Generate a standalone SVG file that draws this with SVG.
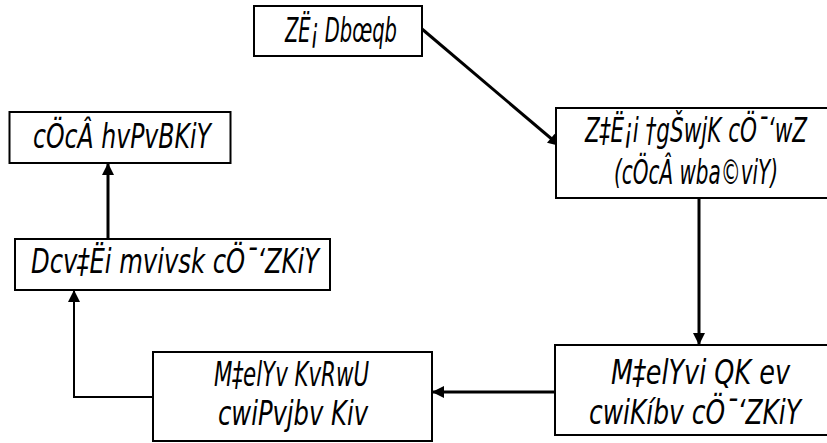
<svg xmlns="http://www.w3.org/2000/svg" width="827" height="443" viewBox="0 0 827 443">
<defs>
<marker id="ah" viewBox="0 0 10 10" refX="10" refY="5" markerWidth="4.3" markerHeight="4" markerUnits="strokeWidth" orient="auto">
<path d="M0,0 L10,5 L0,10 z" fill="#000"/>
</marker>
<marker id="ahs" viewBox="0 0 10 10" refX="10" refY="5" markerWidth="6" markerHeight="6" markerUnits="strokeWidth" orient="auto">
<path d="M0,0 L10,5 L0,10 z" fill="#000"/>
</marker>
</defs>
<style>
.box{fill:#fff;stroke:#000;stroke-width:2}
.t{font-family:"Liberation Sans Narrow","DejaVu Sans Condensed","Liberation Sans",sans-serif;font-style:italic;font-size:33px;fill:#000}
.c{fill:none;stroke:#000;stroke-width:3}
.c2{fill:none;stroke:#000;stroke-width:2}
</style>
<rect width="827" height="443" fill="#fff"/>
<g id="connectors">
<path class="c" d="M422,29 L560,146" marker-end="url(#ah)"/>
<path class="c" d="M699,198 L699,345" marker-end="url(#ah)"/>
<path class="c" d="M555,392 L432,392" marker-end="url(#ah)"/>
<path class="c2" d="M153,397 L74,397 L74,290" marker-end="url(#ahs)"/>
<path class="c" d="M108,239 L108,163" marker-end="url(#ah)"/>
</g>
<g id="n1">
<rect class="box" x="254" y="6" width="168" height="50"/>
<text class="t" x="285" y="42" textLength="112" lengthAdjust="spacingAndGlyphs">ZË¡ Dbœqb</text>
</g>
<g id="n2">
<rect class="box" x="556" y="108" width="280" height="90"/>
<text class="t" x="585" y="142" textLength="222" lengthAdjust="spacingAndGlyphs">Z‡Ë¡i †gŠwjK cÖ¯‘wZ</text>
<text class="t" x="614" y="184" textLength="164" lengthAdjust="spacingAndGlyphs">(cÖcÂ wba©viY)</text>
</g>
<g id="n3">
<rect class="box" x="9.5" y="112" width="221" height="51"/>
<text class="t" x="33" y="148" textLength="178" lengthAdjust="spacingAndGlyphs">cÖcÂ hvPvBKiY</text>
</g>
<g id="n4">
<rect class="box" x="15" y="239" width="315" height="51"/>
<text class="t" x="31" y="273" textLength="288" lengthAdjust="spacingAndGlyphs">Dcv‡Ëi mvivsk cÖ¯‘ZKiY</text>
</g>
<g id="n5">
<rect class="box" x="153" y="352" width="279" height="89"/>
<text class="t" x="214" y="386" textLength="155" lengthAdjust="spacingAndGlyphs">M‡elYv KvRwU</text>
<text class="t" x="218" y="425" textLength="150" lengthAdjust="spacingAndGlyphs">cwiPvjbv Kiv</text>
</g>
<g id="n6">
<rect class="box" x="555" y="345" width="280" height="90"/>
<text class="t" x="611" y="384" textLength="179" lengthAdjust="spacingAndGlyphs">M‡elYvi QK ev</text>
<text class="t" x="589" y="424" textLength="212" lengthAdjust="spacingAndGlyphs">cwiKíbv cÖ¯‘ZKiY</text>
</g>
</svg>
